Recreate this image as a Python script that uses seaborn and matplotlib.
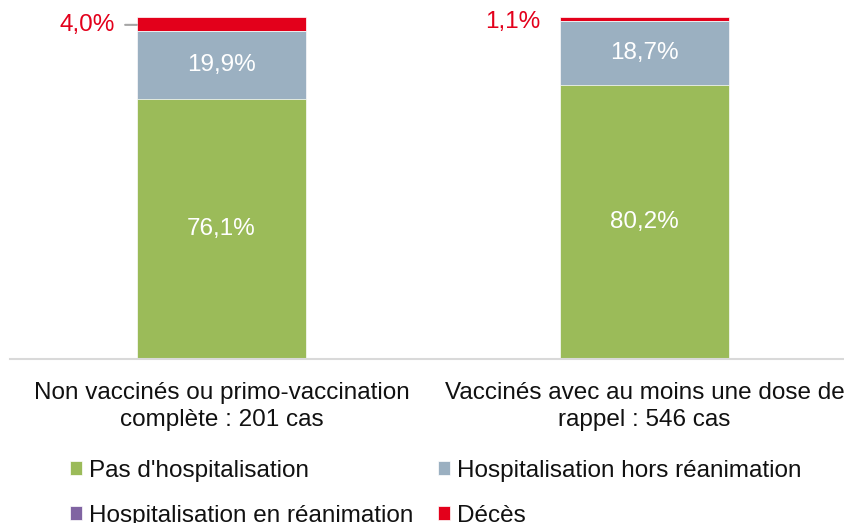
import numpy as np
import pandas as pd
import matplotlib
matplotlib.use("Agg")
import matplotlib.pyplot as plt
import seaborn as sns

# data
categories = ["Non vaccinés ou primo-vaccination\ncomplète : 201 cas",
              "Vaccinés avec au moins une dose de\nrappel : 546 cas"]
series = ["Pas d'hospitalisation", "Hospitalisation hors réanimation",
          "Hospitalisation en réanimation", "Décès"]
pas_hosp = [76.1, 80.2]
hosp_hors_rea = [19.9, 18.7]
hosp_rea = [0.0, 0.0]
deces = [4.0, 1.1]
colors = ["#9BBB59", "#9BB0C1", "#8064A2", "#E3001B"]

sns.set_style("white")
plt.rcParams["font.family"] = ["Liberation Sans", "DejaVu Sans"]
FS = 17.5

values = np.array([pas_hosp, hosp_hors_rea, hosp_rea, deces])
tops = values.cumsum(axis=0)

fig = plt.figure(figsize=(8.45, 5.23), dpi=100)
ax = fig.add_axes([10 / 845, 164 / 523, 846 / 845, 342 / 523])

# stacked bars: draw the cumulative tops from the highest down
for i in range(len(series) - 1, -1, -1):
    df = pd.DataFrame({"cat": categories, "top": tops[i]})
    sns.barplot(data=df, x="cat", y="top", color=colors[i], width=0.4,
                saturation=1, ax=ax, label=series[i], edgecolor="white",
                linewidth=0.5)

# value labels inside the bars
for j in range(len(categories)):
    for i, v in enumerate([pas_hosp[j], hosp_hors_rea[j]]):
        y = tops[i][j] - v / 2
        ax.text(j, y, f"{v:.1f}%".replace(".", ","), ha="center", va="center",
                color="white", fontsize=FS)

# deaths labels to the left of the bars
ax.annotate(f"{deces[0]:.1f}%".replace(".", ","), xy=(-0.2, 97.7),
            xytext=(-0.252, 97.7), ha="right", va="center", color="#E3001B",
            fontsize=FS,
            arrowprops=dict(arrowstyle="-", color="#A6A6A6", lw=1.5,
                            shrinkA=5, shrinkB=0))
ax.text(0.753, 98.6, f"{deces[1]:.1f}%".replace(".", ","), ha="right",
        va="center", color="#E3001B", fontsize=FS)

ax.set_xlim(-0.5, 1.5)
ax.set_ylim(0, 100)
ax.set_xlabel("")
ax.set_ylabel("")
ax.set_yticks([])
ax.tick_params(axis="x", length=0, pad=16.5, labelsize=FS, labelcolor="#111111")
for lab in ax.get_xticklabels():
    lab.set_linespacing(1.32)
for s in ["top", "right", "left"]:
    ax.spines[s].set_visible(False)
ax.spines["bottom"].set_color("#D9D9D9")
ax.spines["bottom"].set_linewidth(1.5)

# legend filled row by row: (Pas, Hors) then (Rea, Décès)
handles, labels = ax.get_legend_handles_labels()
leg_order = [series[0], series[2], series[1], series[3]]
idx = [labels.index(s) for s in leg_order]
if ax.legend_:
    ax.legend_.remove()
fig.legend([handles[k] for k in idx], [labels[k] for k in idx],
           loc="upper left", bbox_to_anchor=(70 / 845, (523 - 460) / 523),
           ncol=2, frameon=False, fontsize=FS, handlelength=0.5,
           handleheight=0.5, handletextpad=0.28, columnspacing=1.0,
           labelspacing=0.93, borderpad=0, borderaxespad=0,
           labelcolor="#111111")

fig.savefig("out.png", dpi=100)
